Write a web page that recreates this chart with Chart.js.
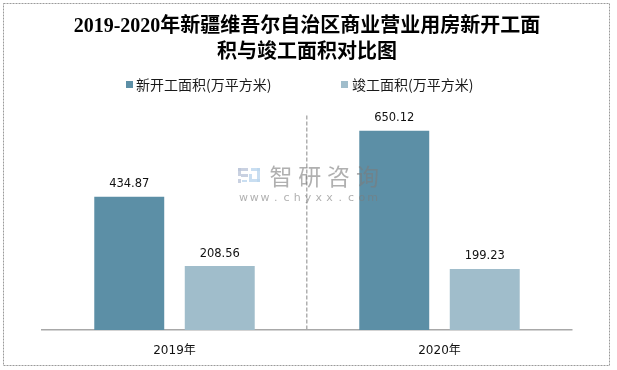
<!DOCTYPE html>
<html>
<head>
<meta charset="utf-8">
<script src="https://cdn.jsdelivr.net/npm/chart.js@4/dist/chart.umd.min.js"></script>
<style>
  html, body { margin: 0; padding: 0; background: #ffffff; }
  #wrap { width: 617px; height: 370px; position: relative; }
</style>
</head>
<body>
<div id="wrap"><canvas id="c" width="617" height="370"></canvas></div>
<script>
// ---- data ----
const categories = ['2019年', '2020年'];
const seriesNames = ['新开工面积(万平方米)', '竣工面积(万平方米)'];
const newStartArea = [434.87, 650.12];
const completedArea = [208.56, 199.23];
const titleLines = ['2019-2020年新疆维吾尔自治区商业营业用房新开工面', '积与竣工面积对比图'];
const yMax = 700;

const colors = ['#5c8fa6', '#a0bdcb'];
const cjk = "'Noto Sans CJK SC'";

// background + outer frame
const framePlugin = {
  id: 'frame',
  beforeDraw(chart) {
    const ctx = chart.ctx;
    ctx.save();
    ctx.fillStyle = '#ffffff';
    ctx.fillRect(0, 0, chart.width, chart.height);
    ctx.strokeStyle = '#9a9a9a';
    ctx.lineWidth = 1;
    ctx.setLineDash([2, 1]);
    ctx.strokeRect(3.5, 3.5, 606, 362);
    ctx.restore();
  }
};

// custom legend
const legendPlugin = {
  id: 'customLegend',
  afterDraw(chart) {
    const ctx = chart.ctx;
    const pos = [{box: 126, text: 136}, {box: 341, text: 352}];
    const yc = 84.5;
    ctx.save();
    ctx.font = "14px " + cjk;
    ctx.textBaseline = 'middle';
    ctx.textAlign = 'left';
    chart.data.datasets.forEach((ds, i) => {
      ctx.fillStyle = ds.backgroundColor;
      ctx.fillRect(pos[i].box, yc - 3.5, 7, 7);
      ctx.fillStyle = '#1a1a1a';
      ctx.fillText(ds.label, pos[i].text, yc);
    });
    ctx.restore();
  }
};

// value labels above bars
const valueLabelPlugin = {
  id: 'valueLabels',
  afterDatasetsDraw(chart) {
    const ctx = chart.ctx;
    ctx.save();
    ctx.font = "11.5px 'DejaVu Sans'";
    ctx.fillStyle = '#111111';
    ctx.textAlign = 'center';
    ctx.textBaseline = 'middle';
    chart.data.datasets.forEach((ds, di) => {
      const meta = chart.getDatasetMeta(di);
      meta.data.forEach((el, i) => {
        ctx.fillText(ds.data[i].toFixed(2), el.x, el.y - 12.5);
      });
    });
    ctx.restore();
  }
};

// watermark
const watermarkPlugin = {
  id: 'watermark',
  afterDatasetsDraw(chart) {
    const ctx = chart.ctx;
    ctx.save();
    // logo
    ctx.globalAlpha = 0.8;
    ctx.fillStyle = '#bcc6da';
    ctx.fillRect(238, 168, 10, 3);
    ctx.fillRect(238, 168, 3, 8);
    ctx.fillRect(241, 174, 7, 3);
    ctx.fillRect(238, 179, 3, 4);
    ctx.fillStyle = '#bcd6ee';
    ctx.fillRect(251, 168, 9, 3);
    ctx.fillRect(257, 168, 3, 14);
    ctx.fillRect(249, 179, 11, 3);
    ctx.fillRect(249, 174, 3, 5);
    ctx.fillRect(242, 180, 5, 2);
    // text
    ctx.globalAlpha = 0.6;
    ctx.fillStyle = '#7c7c7c';
    ctx.textAlign = 'center';
    ctx.textBaseline = 'middle';
    ctx.font = "23px " + cjk;
    const wm = '智研咨询';
    for (let i = 0; i < wm.length; i++) ctx.fillText(wm[i], 281 + i * 28.8, 176);
    ctx.font = "11px 'DejaVu Sans'";
    const url = 'www.chyxx.com';
    for (let i = 0; i < url.length; i++) ctx.fillText(url[i], 243.5 + i * 10.75, 198);
    ctx.restore();
  }
};

new Chart(document.getElementById('c'), {
  type: 'bar',
  data: {
    labels: categories,
    datasets: [
      { label: seriesNames[0], data: newStartArea, backgroundColor: colors[0],
        categoryPercentage: 0.683, barPercentage: 0.773 },
      { label: seriesNames[1], data: completedArea, backgroundColor: colors[1],
        categoryPercentage: 0.683, barPercentage: 0.773 }
    ]
  },
  options: {
    responsive: false,
    animation: false,
    devicePixelRatio: 1,
    layout: { padding: { left: 42, right: 45, top: 0, bottom: -2 } },
    plugins: {
      legend: { display: false },
      tooltip: { enabled: false },
      title: {
        display: true,
        text: titleLines,
        color: '#000000',
        font: { family: "'Liberation Serif', " + cjk, size: 20, weight: 'bold', lineHeight: 1.275 },
        padding: { top: 14.25, bottom: 50.25 }
      }
    },
    scales: {
      x: {
        grid: {
          display: true,
          drawTicks: false,
          offset: true,
          lineWidth: 1.5,
          color: (c) => (c.index === 1 ? '#b0b0b0' : 'rgba(0,0,0,0)')
        },
        border: { display: true, color: '#a8a8a8', width: 1.5, dash: [4, 2] },
        ticks: {
          color: '#111111',
          padding: 15,
          font: { family: "'DejaVu Sans', " + cjk, size: 12, lineHeight: 1.0 }
        }
      },
      y: {
        display: false,
        min: 0,
        max: yMax
      }
    }
  },
  plugins: [framePlugin, valueLabelPlugin, watermarkPlugin, legendPlugin]
});
</script>
</body>
</html>
